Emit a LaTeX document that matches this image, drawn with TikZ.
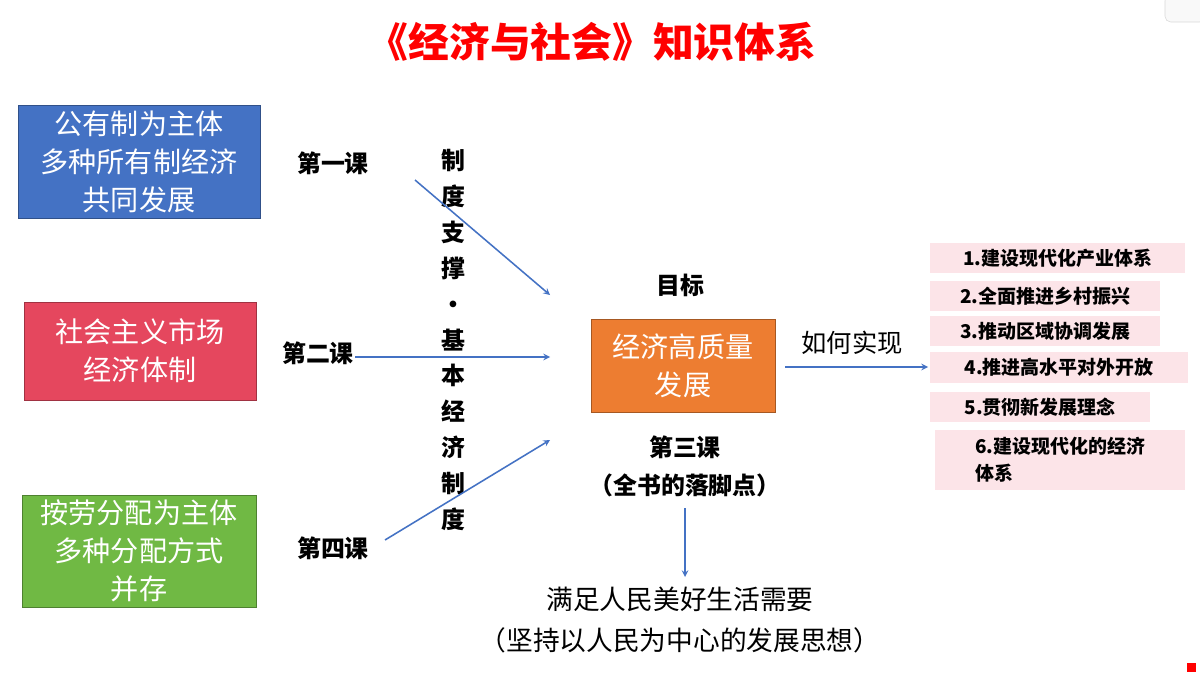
\documentclass[tikz,border=0pt]{standalone}
\usepackage{fontspec}
\setmainfont{Noto Sans CJK SC}
\begin{document}
\begin{tikzpicture}[x=0.025cm,y=-0.025cm,
  cbox/.style={draw=#1!70!black,fill=#1,text=white,align=center,inner sep=0pt,font=\fontsize{20}{27}\selectfont},
  lbl/.style={font=\bfseries\fontsize{17}{20}\selectfont},
  item/.style={fill=pinkbg,anchor=west,inner sep=3pt,font=\bfseries\fontsize{13.5}{17}\selectfont,align=left},
  arr/.style={-stealth,draw=arrblue,line width=1.1pt}]
\definecolor{arrblue}{HTML}{4472C4}
\definecolor{bblue}{HTML}{4472C4}
\definecolor{bred}{HTML}{E5475E}
\definecolor{bgreen}{HTML}{70B944}
\definecolor{borange}{HTML}{ED7D31}
\definecolor{pinkbg}{HTML}{FCE4E8}
\definecolor{tred}{HTML}{FF0000}
\useasboundingbox (0,0) rectangle (1200,675);
\fill[white] (0,0) rectangle (1200,675);
\draw[gray!30,rounded corners=4pt,fill=gray!5] (1165,-5) rectangle (1205,22);
\fill[tred] (1187,663) rectangle (1196,672);
\node[text=tred,font=\bfseries\fontsize{29}{32}\selectfont] (title) at (592,42) {《经济与社会》知识体系};
\node[cbox=bblue,minimum width=242\pgflinewidth/\pgflinewidth*0.025cm,minimum height=113*0.025cm] (b1) at (139,162) {公有制为主体\\多种所有制经济\\共同发展};
\node[cbox=bred,minimum width=232*0.025cm,minimum height=98*0.025cm] (b2) at (140,351) {社会主义市场\\经济体制};
\node[cbox=bgreen,minimum width=234*0.025cm,minimum height=112*0.025cm] (b3) at (139,551) {按劳分配为主体\\多种分配方式\\并存};
\node[lbl] (k1) at (333,163) {第一课};
\node[lbl] (k2) at (318,353) {第二课};
\node[lbl] (k4) at (333,548) {第四课};
\node[lbl,align=center,font=\bfseries\fontsize{17}{25.5}\selectfont] (vt) at (453,340) {制\\度\\支\\撑\\·\\基\\本\\经\\济\\制\\度};
\node[cbox=borange,minimum width=184*0.025cm,minimum height=93*0.025cm] (core) at (683,366) {经济高质量\\发展};
\node[lbl] (goal) at (680,285) {目标};
\node[font=\fontsize{18}{20}\selectfont] (how) at (852,343) {如何实现};
\node[lbl,align=center,font=\bfseries\fontsize{17}{27}\selectfont] (k3) at (685,466) {第三课\\（全书的落脚点）};
\node[align=center,font=\fontsize{19}{29}\selectfont] (need) at (680,620) {满足人民美好生活需要\\（坚持以人民为中心的发展思想）};
\coordinate (a1s) at (415,180); \coordinate (a1e) at (550,295);
\coordinate (a2s) at (355,357); \coordinate (a2e) at (550,357);
\coordinate (a4s) at (385,540); \coordinate (a4e) at (550,440);
\draw[arr] (a1s) -- (a1e);
\draw[arr] (a2s) -- (a2e);
\draw[arr] (a4s) -- (a4e);
\coordinate (hs) at (785,367); \coordinate (he) at (928,367);
\draw[arr] (hs) -- (he);
\coordinate (ds) at (685,508); \coordinate (de) at (685,577);
\draw[arr] (ds) -- (de);
\node[item,minimum width=255*0.025cm,minimum height=30*0.025cm] (i1) at (930,258) {1.建设现代化产业体系};
\node[item,minimum width=230*0.025cm,minimum height=30*0.025cm] (i2) at (930,296) {2.全面推进乡村振兴};
\node[item,minimum width=230*0.025cm,minimum height=30*0.025cm] (i3) at (930,331) {3.推动区域协调发展};
\node[item,minimum width=258*0.025cm,minimum height=31*0.025cm] (i4) at (930,367) {4.推进高水平对外开放};
\node[item,minimum width=220*0.025cm,minimum height=30*0.025cm] (i5) at (930,407) {5.贯彻新发展理念};
\node[item,minimum width=250*0.025cm,minimum height=60*0.025cm,font=\bfseries\fontsize{13.5}{19}\selectfont] (i6) at (935,460) {6.建设现代化的经济\\体系};
\end{tikzpicture}
\end{document}
